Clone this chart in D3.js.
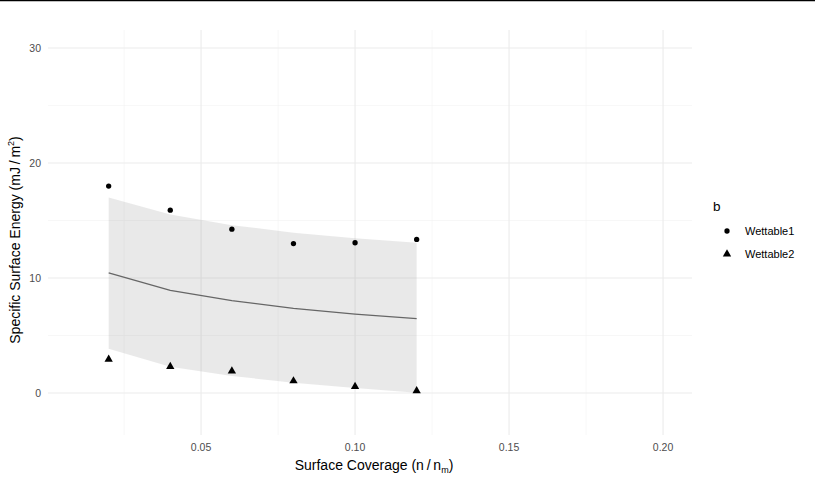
<!DOCTYPE html>
<html><head><meta charset="utf-8">
<script src="https://cdn.jsdelivr.net/npm/d3@7"></script>
<style>body{margin:0;background:#fff;}svg{display:block;font-family:"Liberation Sans",Arial,sans-serif;}</style>
</head><body>
<script>
const coverage = [0.02, 0.04, 0.06, 0.08, 0.10, 0.12];
const wettable1 = [18.0, 15.9, 14.25, 13.0, 13.07, 13.36];
const wettable2 = [2.93, 2.3, 1.9, 1.05, 0.57, 0.2];
const fitMean = [10.45, 8.92, 8.03, 7.37, 6.87, 6.47];
const fitUpper = [17.0, 15.53, 14.6, 13.94, 13.45, 13.07];
const fitLower = [3.85, 2.29, 1.48, 0.9, 0.43, 0.03];
const xTicks = [0.05, 0.10, 0.15, 0.20];
const xMinor = [0.025, 0.075, 0.125, 0.175];
const yTicks = [0, 10, 20, 30];
const yMinor = [5, 15, 25];
const seriesNames = ["Wettable1", "Wettable2"];

const W = 815, H = 482;
const svg = d3.select("body").append("svg").attr("width", W).attr("height", H);

const x = d3.scaleLinear().domain([0.0003, 0.2094]).range([48, 692]);
const y = d3.scaleLinear().domain([-3.65, 31.57]).range([435, 30]);

// top border line
svg.append("line").attr("x1", 0).attr("x2", W).attr("y1", 0.5).attr("y2", 0.5)
  .attr("stroke", "#000").attr("stroke-width", 1.5);

const grid = svg.append("g");
grid.selectAll(".ymin").data(yMinor).join("line")
  .attr("x1", 48).attr("x2", 692).attr("y1", d => y(d)).attr("y2", d => y(d))
  .attr("stroke", "#f2f2f2").attr("stroke-width", 0.6);
grid.selectAll(".xmin").data(xMinor).join("line")
  .attr("y1", 30).attr("y2", 435).attr("x1", d => x(d)).attr("x2", d => x(d))
  .attr("stroke", "#f2f2f2").attr("stroke-width", 0.6);
grid.selectAll(".ymaj").data(yTicks).join("line")
  .attr("x1", 48).attr("x2", 692).attr("y1", d => y(d)).attr("y2", d => y(d))
  .attr("stroke", "#ebebeb").attr("stroke-width", 1.1);
grid.selectAll(".xmaj").data(xTicks).join("line")
  .attr("y1", 30).attr("y2", 435).attr("x1", d => x(d)).attr("x2", d => x(d))
  .attr("stroke", "#ebebeb").attr("stroke-width", 1.1);

const idx = d3.range(coverage.length);
svg.append("path").datum(idx)
  .attr("d", d3.area().x(i => x(coverage[i])).y0(i => y(fitLower[i])).y1(i => y(fitUpper[i])))
  .attr("fill", "#999999").attr("fill-opacity", 0.22);
svg.append("path").datum(idx)
  .attr("d", d3.line().x(i => x(coverage[i])).y(i => y(fitMean[i])))
  .attr("fill", "none").attr("stroke", "#666666").attr("stroke-width", 1.3);

const circ = d3.symbol().type(d3.symbolCircle).size(22);
const tri = d3.symbol().type(d3.symbolTriangle).size(30);
svg.selectAll(".p1").data(idx).join("path")
  .attr("d", circ).attr("transform", i => `translate(${x(coverage[i])},${y(wettable1[i])})`).attr("fill", "#000");
svg.selectAll(".p2").data(idx).join("path")
  .attr("d", tri).attr("transform", i => `translate(${x(coverage[i])},${y(wettable2[i])})`).attr("fill", "#000");

// axes tick labels
svg.selectAll(".xt").data(xTicks).join("text")
  .attr("x", d => x(d)).attr("y", 451).attr("text-anchor", "middle")
  .attr("font-size", 10.5).attr("fill", "#4d4d4d").text(d => d.toFixed(2));
svg.selectAll(".yt").data(yTicks).join("text")
  .attr("x", 41).attr("y", d => y(d) + 3.8).attr("text-anchor", "end")
  .attr("font-size", 10.5).attr("fill", "#4d4d4d").text(d => d);

// axis titles
const xl = svg.append("text").attr("x", 374).attr("y", 470).attr("text-anchor", "middle")
  .attr("font-size", 14).attr("fill", "#000");
xl.append("tspan").text("Surface Coverage (n\u2009/\u2009n");
xl.append("tspan").attr("font-size", 9).attr("dy", 3).text("m");
xl.append("tspan").attr("dy", -3).text(")");

const yl = svg.append("text").attr("transform", "translate(20,240) rotate(-90)").attr("text-anchor", "middle")
  .attr("font-size", 14).attr("fill", "#000");
yl.append("tspan").text("Specific Surface Energy (mJ\u2009/\u2009m");
yl.append("tspan").attr("font-size", 9).attr("dy", -6).text("2");
yl.append("tspan").attr("dy", 6).text(")");

// legend
svg.append("text").attr("x", 713).attr("y", 211).attr("font-size", 13.5).attr("fill", "#000").text("b");
const shapes = [circ, tri];
seriesNames.forEach((n, i) => {
  const cy = 231 + i * 23;
  svg.append("path").attr("d", shapes[i]).attr("transform", `translate(727,${cy})`).attr("fill", "#000");
  svg.append("text").attr("x", 745).attr("y", cy + 4).attr("font-size", 11).attr("fill", "#000").text(n);
});
</script>
</body></html>
